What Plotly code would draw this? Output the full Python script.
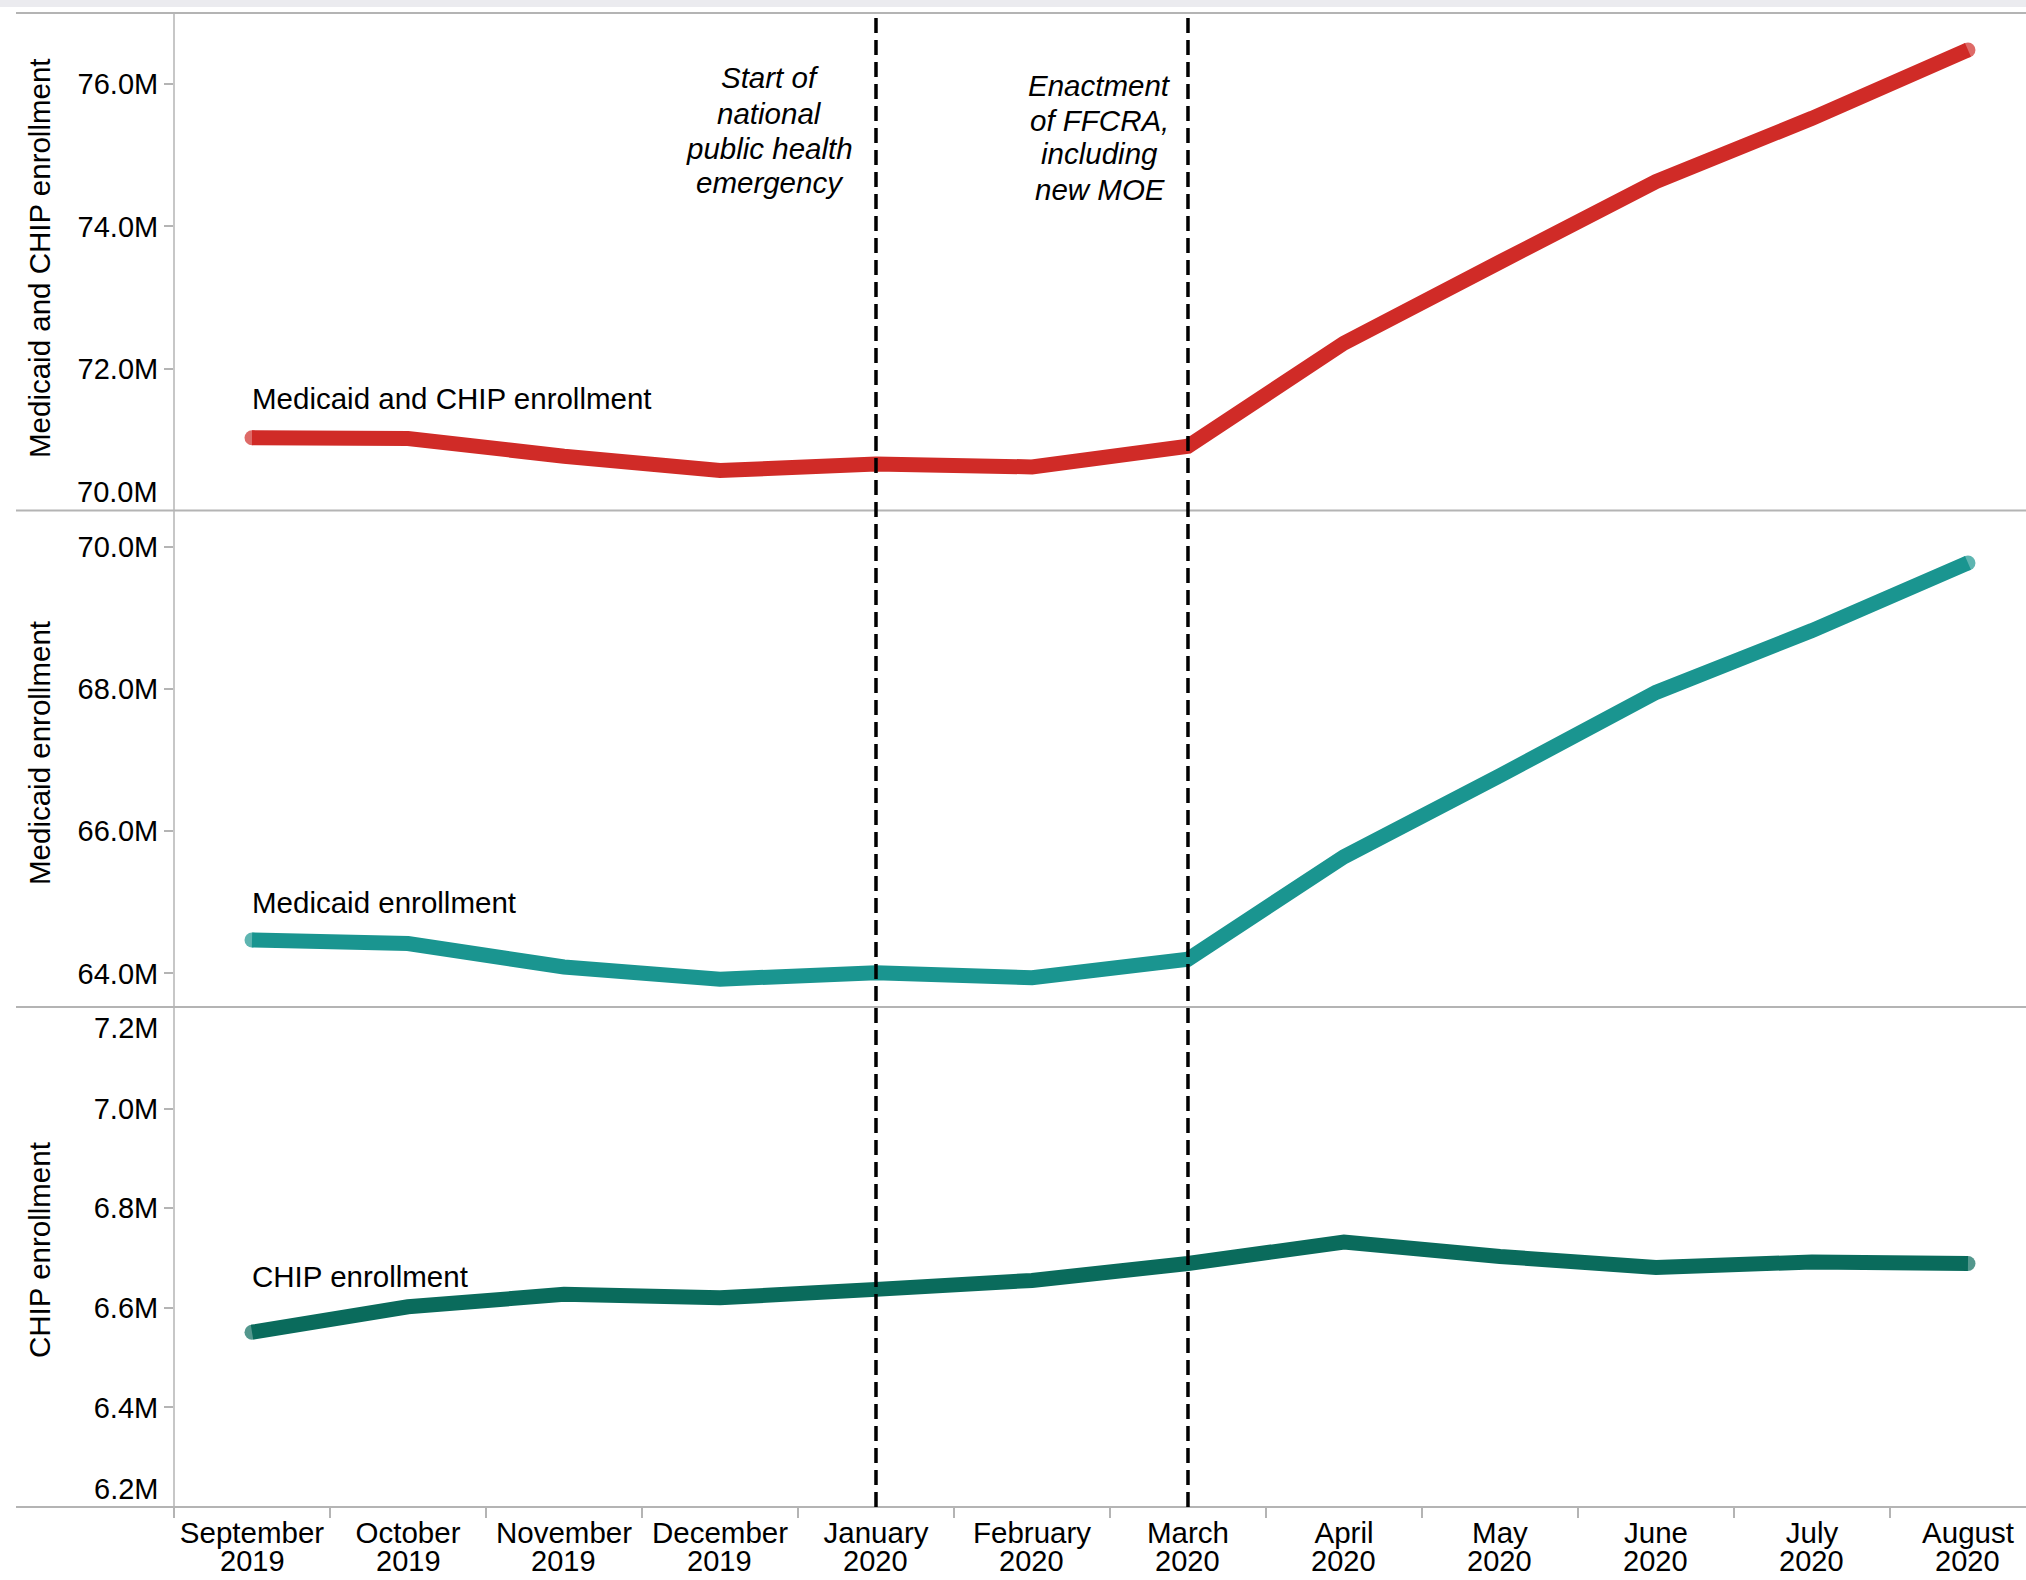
import plotly.graph_objects as go
from plotly.subplots import make_subplots

# ---------------- data ----------------
months = ["September 2019", "October 2019", "November 2019", "December 2019",
          "January 2020", "February 2020", "March 2020", "April 2020",
          "May 2020", "June 2020", "July 2020", "August 2020"]
month_names = ["September", "October", "November", "December", "January", "February",
               "March", "April", "May", "June", "July", "August"]
month_years = ["2019", "2019", "2019", "2019", "2020", "2020",
               "2020", "2020", "2020", "2020", "2020", "2020"]

total_enroll_m = [71.03, 71.02, 70.77, 70.57, 70.66, 70.62, 70.91, 72.36, 73.50, 74.63, 75.52, 76.48]
medicaid_enroll_m = [64.47, 64.42, 64.09, 63.92, 64.01, 63.94, 64.20, 65.64, 66.78, 67.95, 68.82, 69.77]
chip_enroll_m = [6.551, 6.602, 6.627, 6.620, 6.637, 6.655, 6.689, 6.732, 6.703, 6.681, 6.692, 6.689]

series_names = ["Medicaid and CHIP enrollment", "Medicaid enrollment", "CHIP enrollment"]
axis_titles = ["Medicaid and CHIP enrollment", "Medicaid enrollment", "CHIP enrollment"]

top_ticks = [72, 74, 76]
mid_ticks = [64, 66, 68, 70]
bot_ticks = [6.4, 6.6, 6.8, 7.0]

events = [("January 2020", ["Start of", "national", "public health", "emergency"]),
          ("March 2020", ["Enactment", "of FFCRA,", "including", "new MOE"])]

# ---------------- style ----------------
W, H = 2026, 1580
ML, MT, MB = 174, 13, 73
PW, PH = W - ML, H - MT - MB
FONT = "Liberation Sans, Arial, sans-serif"
GRAY = "#b4b4b4"
colors = ["#d02b27", "#1a9590", "#0a6b5c"]
LW = 15

def py(real_y):
    return (H - MB - real_y) / PH

def px(real_x):
    return (real_x - ML) / PW

fig = make_subplots(rows=3, cols=1, shared_xaxes=True, vertical_spacing=0)

all_series = [total_enroll_m, medicaid_enroll_m, chip_enroll_m]
for i, vals in enumerate(all_series):
    n = len(vals)
    fig.add_trace(go.Scatter(
        x=months, y=vals, mode="lines+markers",
        line=dict(color=colors[i], width=LW),
        marker=dict(color=colors[i], size=[LW] + [0] * (n - 2) + [LW], line=dict(width=0)),
        showlegend=False, hoverinfo="skip"), row=i + 1, col=1)

ranges = [[70, 77], [63.5, 70.5], [6.2, 7.2]]
ticks = [top_ticks, mid_ticks, bot_ticks]
ticktexts = [[f"{v:.1f}M" for v in top_ticks], [f"{v:.1f}M" for v in mid_ticks],
             [f"{v:.1f}M" for v in bot_ticks]]
for i in range(3):
    fig.update_yaxes(range=ranges[i], tickvals=ticks[i], ticktext=ticktexts[i],
                     showgrid=False, zeroline=False, showline=False, automargin=False,
                     ticks="outside", ticklen=9, tickcolor=GRAY, tickwidth=1.5,
                     tickfont=dict(family=FONT, size=29, color="black"),
                     row=i + 1, col=1)

xrange = [-0.5, 11.372]
for i in range(3):
    fig.update_xaxes(type="category", categoryorder="array", categoryarray=months,
                     range=xrange, showgrid=False, zeroline=False, showline=False,
                     automargin=False, row=i + 1, col=1)
fig.update_xaxes(showticklabels=False, ticks="", row=1, col=1)
fig.update_xaxes(showticklabels=False, ticks="", row=2, col=1)
fig.update_xaxes(tickvals=months, ticktext=month_names, ticks="outside", tickson="boundaries",
                 ticklen=10, tickcolor=GRAY, tickwidth=1.5, ticklabelstandoff=5,
                 tickfont=dict(family=FONT, size=29.5, color="black"), row=3, col=1)

shapes = []
# light gray header strip (cropped title area)
shapes.append(dict(type="rect", xref="paper", yref="paper", x0=px(0), x1=1, y0=py(7), y1=py(0),
                   fillcolor="#ebebef", line=dict(width=0), layer="below"))
# panel borders
for ry in [13, 510.5, 1007, 1507]:
    shapes.append(dict(type="line", xref="paper", yref="paper", x0=px(16), x1=1, y0=py(ry), y1=py(ry),
                       line=dict(color=GRAY, width=2)))
# left axis line
shapes.append(dict(type="line", xref="paper", yref="paper", x0=0, x1=0, y0=py(1517), y1=py(13),
                   line=dict(color=GRAY, width=1.5)))
# event dashed lines
for cat, _ in events:
    shapes.append(dict(type="line", xref="x3", yref="paper", x0=cat, x1=cat, y0=py(1507), y1=py(15),
                       line=dict(color="black", width=3.5, dash="15px,7px")))

annotations = []
# second line of the month tick labels (year)
for m, yr in zip(months, month_years):
    annotations.append(dict(text=yr, xref="x3", yref="paper", x=m, y=py(1561),
                            xanchor="center", yanchor="middle", showarrow=False, borderpad=0,
                            font=dict(family=FONT, size=29, color="black")))
# y axis titles
title_centers = [258, 753, 1250]
for t, cy in zip(axis_titles, title_centers):
    annotations.append(dict(text=t, xref="paper", yref="paper", x=px(39), y=py(cy),
                            xanchor="center", yanchor="middle", textangle=-90, showarrow=False,
                            font=dict(family=FONT, size=29.5, color="black")))
# edge tick labels (shifted inside the panel like the original)
edge_labels = [("y", 70.0, 19), ("y3", 7.2, -19), ("y3", 6.2, 18)]
for yr, v, shift in edge_labels:
    annotations.append(dict(text=f"{v:.1f}M", xref="paper", yref=yr, x=0, y=v, xanchor="right",
                            yanchor="middle", xshift=-14, yshift=shift, showarrow=False,
                            font=dict(family=FONT, size=29, color="black")))
# series labels
label_y = [71.58, 65.00, 6.662]
for i, name in enumerate(series_names):
    annotations.append(dict(text=name, xref=f"x{i + 1}" if i else "x", yref=f"y{i + 1}" if i else "y",
                            x=months[0], y=label_y[i], xanchor="left", yanchor="middle",
                            xshift=-2, showarrow=False,
                            font=dict(family=FONT, size=29.5, color="black")))
# event labels
event_xshift = [-106, -88]
event_line_y = [[78, 113, 148, 183], [85, 120, 154, 189]]
for (cat, lines), xs, ys in zip(events, event_xshift, event_line_y):
    for line, ry in zip(lines, ys):
        annotations.append(dict(text=f"<i>{line}</i>", xref="x3", yref="paper", x=cat, y=py(ry),
                                xanchor="center", yanchor="middle", xshift=xs, showarrow=False,
                                font=dict(family=FONT, size=29.5, color="black")))

fig.update_layout(width=W, height=H, autosize=False,
                  margin=dict(l=ML, r=0, t=MT, b=MB, pad=0, autoexpand=False),
                  paper_bgcolor="white", plot_bgcolor="white",
                  font=dict(family=FONT, color="black"),
                  shapes=shapes, annotations=annotations, showlegend=False)

fig.write_html("out.html", config={"displayModeBar": False},
               post_script="document.body.style.margin='0';document.body.style.overflow='hidden';")
